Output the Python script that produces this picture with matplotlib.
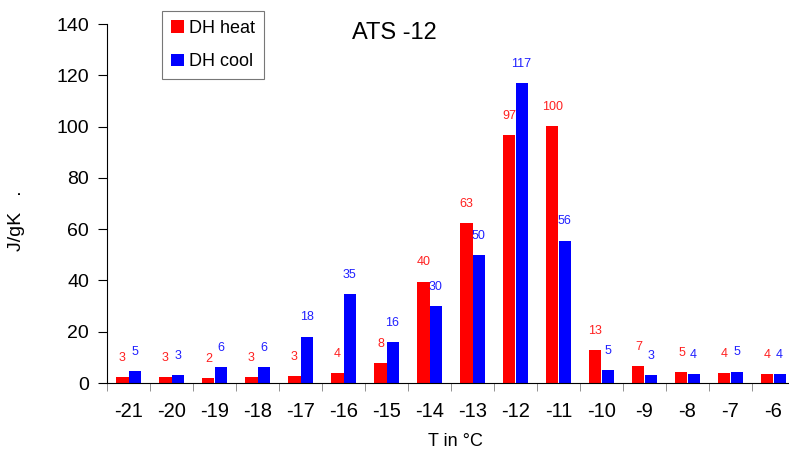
import matplotlib.pyplot as plt
import numpy as np

plt.rcParams['font.family'] = ['Liberation Sans', 'DejaVu Sans']

# Data
temps = ['-21', '-20', '-19', '-18', '-17', '-16', '-15', '-14',
         '-13', '-12', '-11', '-10', '-9', '-8', '-7', '-6']
heat = [2.3, 2.2, 2.0, 2.2, 2.6, 3.9, 7.7, 39.5,
        62.4, 96.7, 100.2, 12.9, 6.6, 4.3, 3.8, 3.5]
cool = [4.7, 3.1, 6.1, 6.2, 18.1, 34.7, 15.9, 30.0,
        49.8, 116.9, 55.5, 5.1, 3.0, 3.5, 4.4, 3.5]
heat_labels = [3, 3, 2, 3, 3, 4, 8, 40, 63, 97, 100, 13, 7, 5, 4, 4]
cool_labels = [5, 3, 6, 6, 18, 35, 16, 30, 50, 117, 56, 5, 3, 4, 5, 4]

fig = plt.figure(figsize=(7.89, 4.5), dpi=100)
ax = fig.add_axes([107 / 789, 1 - 383 / 450, 688 / 789, 359 / 450])

x = np.arange(len(temps))
w = 0.28
ax.bar(x - w / 2, heat, w, color='#ff0000', label='DH heat')
ax.bar(x + w / 2, cool, w, color='#0000ff', label='DH cool')

for xi, h, lab in zip(x, heat, heat_labels):
    ax.text(xi - w / 2, h + 7.5, str(lab), ha='center', va='center',
            fontsize=9, color='#ff2020')
for xi, c, lab in zip(x, cool, cool_labels):
    ax.text(xi + w / 2, c + 7.5, str(lab), ha='center', va='center',
            fontsize=9, color='#2020ff')

ax.set_xlim(-0.5, len(temps) - 0.5)
ax.set_ylim(0, 140)
ax.set_yticks(range(0, 141, 20))
ax.tick_params(axis='y', labelsize=14, length=6.5, pad=6.5)
ax.set_xticks(x)
ax.set_xticklabels(temps)
ax.set_xticks(np.arange(-0.5, len(temps), 1), minor=True)
ax.tick_params(axis='x', which='major', length=0, labelsize=14.5, pad=14)
ax.tick_params(axis='x', which='minor', length=6, color='#808080')

for s in ['top', 'right']:
    ax.spines[s].set_visible(False)

fig.text(16.5 / 789, 1 - 221 / 450, 'J/gK   .', rotation=90,
         ha='center', va='center', fontsize=14)
fig.text(455 / 789, 1 - 441 / 450, 'T in °C', ha='center', va='center',
         fontsize=13)
fig.text(394 / 789, 1 - 33 / 450, 'ATS -12', ha='center', va='center',
         fontsize=17)

leg = fig.legend(loc='upper left', bbox_to_anchor=(162 / 789, 1 - 11 / 450),
                 fontsize=13, frameon=True, fancybox=False,
                 edgecolor='#555555', handlelength=0.7, handleheight=0.7,
                 handletextpad=0.3, labelspacing=0.9, borderpad=0.5,
                 borderaxespad=0)
leg.get_frame().set_linewidth(0.8)

fig.savefig('out.png', dpi=100)
